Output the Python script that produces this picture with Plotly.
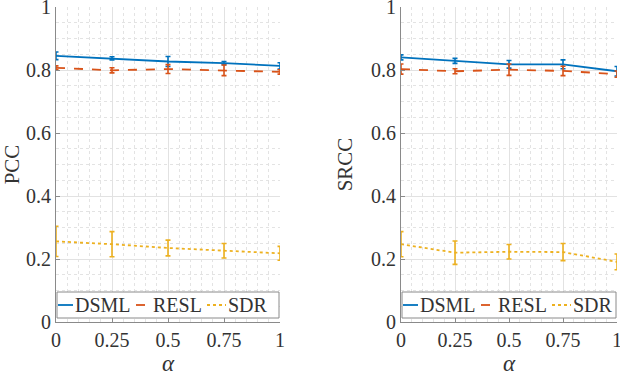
import plotly.graph_objects as go

alpha = [0, 0.25, 0.5, 0.75, 1]
series = ["DSML", "RESL", "SDR"]

pcc_dsml = [0.845, 0.837, 0.827, 0.822, 0.813]
pcc_dsml_err = [0.012, 0.005, 0.016, 0.005, 0.010]
pcc_resl = [0.807, 0.799, 0.803, 0.799, 0.794]
pcc_resl_err = [0.006, 0.008, 0.014, 0.017, 0.007]
pcc_sdr = [0.256, 0.247, 0.235, 0.226, 0.218]
pcc_sdr_err = [0.048, 0.040, 0.025, 0.023, 0.022]

srcc_dsml = [0.840, 0.829, 0.818, 0.818, 0.796]
srcc_dsml_err = [0.008, 0.008, 0.012, 0.014, 0.015]
srcc_resl = [0.803, 0.796, 0.801, 0.797, 0.787]
srcc_resl_err = [0.016, 0.008, 0.018, 0.015, 0.010]
srcc_sdr = [0.247, 0.220, 0.223, 0.222, 0.191]
srcc_sdr_err = [0.040, 0.037, 0.023, 0.027, 0.025]

y_ticks = [0, 0.2, 0.4, 0.6, 0.8, 1]
y_tick_text = ["0", "0.2", "0.4", "0.6", "0.8", "1"]
x_tick_text = ["0", "0.25", "0.5", "0.75", "1"]

colors = ["#0072BD", "#D95319", "#EDB120"]
dashes = ["solid", "dash", "dot"]
FONT = "Liberation Serif"
INK = "#333333"
AXIS = "#8a8a8a"

W, H = 620, 376
# axis boxes in pixels: (left, right), shared top/bottom
panels_px = [(56, 280), (401, 617)]
top_px, bottom_px = 7, 322

fig = go.Figure()

panels = [
    ("x", "y", "PCC", [pcc_dsml, pcc_resl, pcc_sdr], [pcc_dsml_err, pcc_resl_err, pcc_sdr_err]),
    ("x2", "y2", "SRCC", [srcc_dsml, srcc_resl, srcc_sdr], [srcc_dsml_err, srcc_resl_err, srcc_sdr_err]),
]
for xa, ya, _, vals, errs in panels:
    for name, v, e, c, d in zip(series, vals, errs, colors, dashes):
        fig.add_trace(go.Scatter(
            x=alpha, y=v, name=name, mode="lines", xaxis=xa, yaxis=ya, showlegend=False,
            line=dict(color=c, width=1.8, dash=d),
            error_y=dict(type="data", array=e, visible=True, color=c, thickness=1.6, width=2.5),
        ))

grid = dict(showgrid=True, gridcolor="#e2e2e2", gridwidth=1,
            minor=dict(showgrid=True, gridcolor="#e3e3e3", griddash="dot", dtick=0.05, gridwidth=1),
            showline=True, linecolor=AXIS, linewidth=1, ticks="inside", ticklen=4,
            tickcolor=AXIS, zeroline=False, automargin=False, ticklabeloverflow="allow",
            tickfont=dict(family=FONT, size=20, color=INK))

xaxis = dict(grid, range=[0, 1], tickvals=alpha, ticktext=x_tick_text,
             title=dict(text="<i>α</i>", font=dict(family=FONT, size=23, color=INK), standoff=2))
yaxis = dict(grid, range=[0, 1], tickvals=y_ticks, ticktext=y_tick_text)

ydom = [1 - bottom_px / H, 1 - top_px / H]
layout = dict(width=W, height=H, margin=dict(l=0, r=0, t=0, b=0, autoexpand=False),
              paper_bgcolor="white", plot_bgcolor="white",
              font=dict(family=FONT, color=INK))
for i, ((l, r), (xa, ya, ytitle, _, _)) in enumerate(zip(panels_px, panels)):
    sfx = "" if i == 0 else str(i + 1)
    layout["xaxis" + sfx] = dict(xaxis, domain=[l / W, r / W], anchor=ya)
    layout["yaxis" + sfx] = dict(yaxis, domain=ydom, anchor=xa,
                                 title=dict(text=ytitle, font=dict(family=FONT, size=21, color=INK),
                                            standoff=12))
fig.update_layout(**layout)

# MATLAB-style legend box inside the bottom of each axis
legend_dash = ["solid", "dash", "dot"]
sample_px = [(2, 17), (80, 95), (151, 170)]
text_px = [17, 95, 170]
box_y0, box_y1 = 322 - 318, 322 - 292  # pixels above the x axis
mid_y = (box_y0 + box_y1) / 2
span = bottom_px - top_px
for (l, r), (xa, ya, _, _, _) in zip(panels_px, panels):
    width = r - l
    xd, yd = xa + " domain", ya + " domain"
    fig.add_shape(type="rect", xref=xd, yref=yd, x0=1 / width, x1=1 - 1 / width,
                  y0=box_y0 / span, y1=box_y1 / span,
                  fillcolor="white", line=dict(color=AXIS, width=1), layer="above")
    for name, c, d, (s0, s1), tx in zip(series, colors, legend_dash, sample_px, text_px):
        fig.add_shape(type="line", xref=xd, yref=yd, x0=s0 / width, x1=s1 / width,
                      y0=mid_y / span, y1=mid_y / span,
                      line=dict(color=c, width=1.8, dash=d), layer="above")
        fig.add_annotation(text=name, xref=xd, yref=yd, x=tx / width, y=mid_y / span,
                           xanchor="left", yanchor="middle", showarrow=False,
                           font=dict(family=FONT, size=20, color=INK))

# the page's default body margin would shift the figure by 8px
fig.write_html("out.html", config={"displayModeBar": False},
               post_script="document.body.style.margin = '0';")
